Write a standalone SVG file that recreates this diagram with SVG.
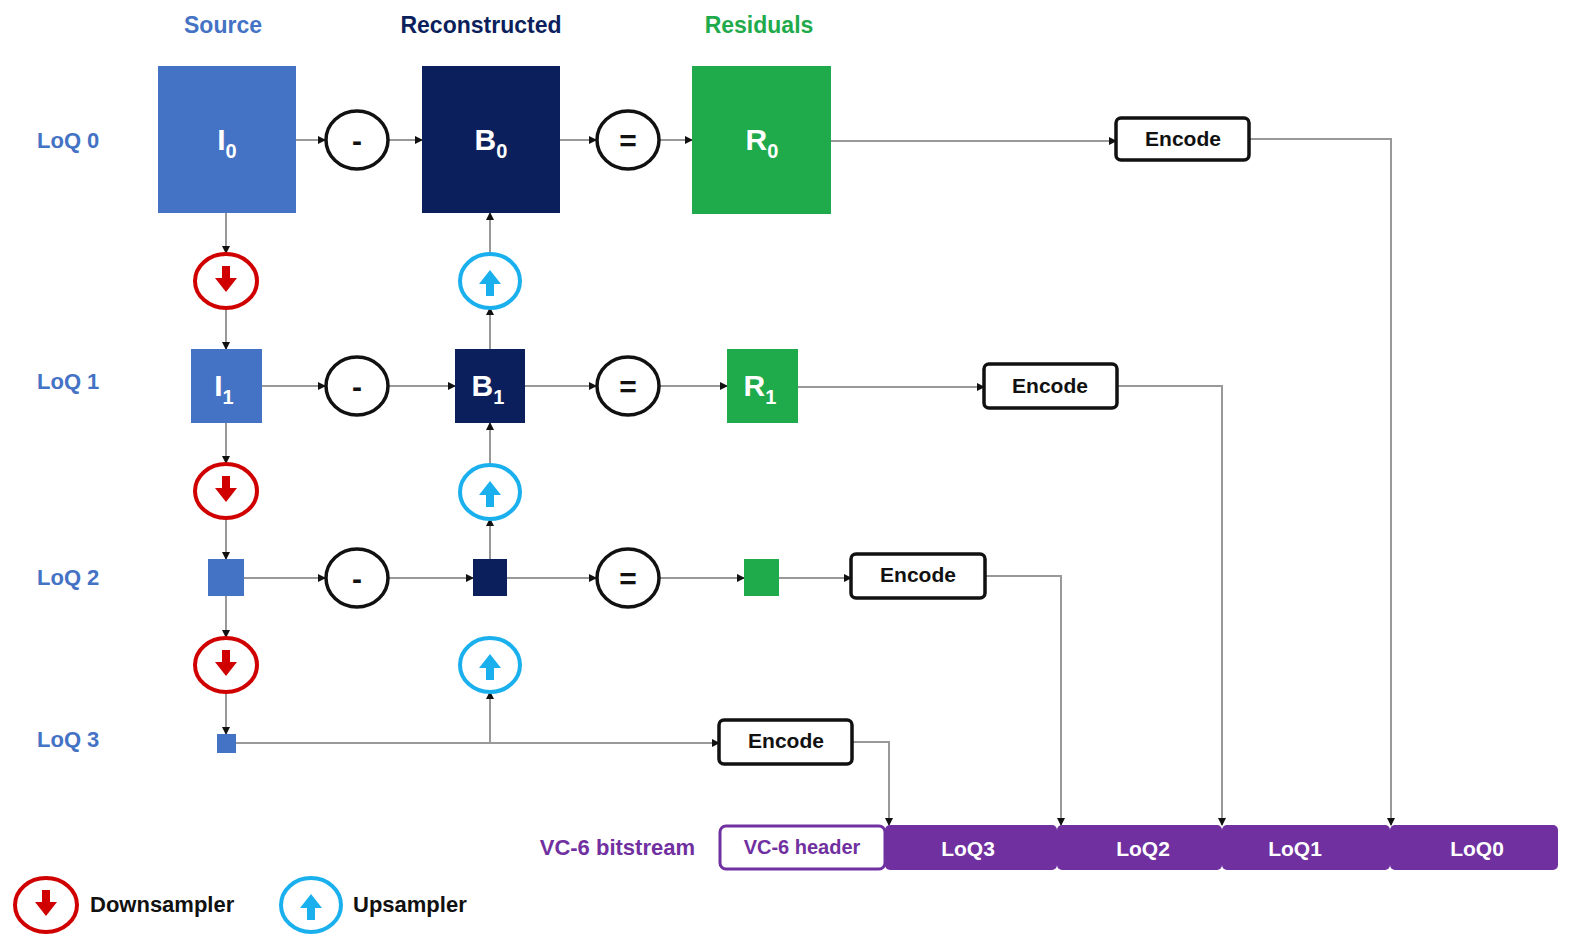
<svg xmlns="http://www.w3.org/2000/svg" width="1571" height="944" viewBox="0 0 1571 944">
<style>
text{font-family:"Liberation Sans",Arial,sans-serif;font-weight:bold}
.hd{font-size:23px;text-anchor:middle}
.loq{font-size:22px;fill:#4472C4}
.bt{fill:#fff;font-size:30px;text-anchor:middle}
.op{fill:#fff;stroke:#111;stroke-width:3.5}
.opt{font-size:30px;text-anchor:middle;fill:#111}
.enc{fill:#fff;stroke:#111;stroke-width:3.5}
.et{font-size:21px;text-anchor:middle;fill:#111}
.c{fill:none;stroke:#999;stroke-width:2;marker-end:url(#ah)}
.cn{fill:none;stroke:#999;stroke-width:2}
.dn{fill:#fff;stroke:#D00000;stroke-width:4}
.up{fill:#fff;stroke:#1AB0EE;stroke-width:4}
.seg{fill:#7030A0}
.st{fill:#fff;font-size:21px;text-anchor:middle}
</style>
<defs>
<marker id="ah" markerWidth="8" markerHeight="8" refX="7" refY="4" orient="auto" markerUnits="userSpaceOnUse"><path d="M0,0 L8,4 L0,8z" fill="#111"/></marker>
<g id="down"><ellipse class="dn" rx="31" ry="27"/><path d="M-4,-15 h8 v12 h7 l-11,14 l-11,-14 h7z" fill="#D00000"/></g>
<g id="upg"><ellipse class="up" rx="30" ry="27"/><path d="M-4,15 h8 v-12 h7 l-11,-14 l-11,14 h7z" fill="#1AB0EE"/></g>
</defs>
<rect width="1571" height="944" fill="#fff"/>
<text class="hd" x="223" y="33" fill="#4472C4">Source</text>
<text class="hd" x="481" y="33" fill="#0B1F5C">Reconstructed</text>
<text class="hd" x="759" y="33" fill="#1FAA4B">Residuals</text>
<text class="loq" x="37" y="148">LoQ 0</text>
<text class="loq" x="37" y="389">LoQ 1</text>
<text class="loq" x="37" y="585">LoQ 2</text>
<text class="loq" x="37" y="747">LoQ 3</text>
<g id="connectors">
<path class="c" d="M296,140 H325"/><path class="c" d="M388,140 H422"/><path class="c" d="M560,140 H596"/><path class="c" d="M660,140 H692"/>
<path class="c" d="M831,141 H1116"/><path class="c" d="M1249,139 H1391 V825"/>
<path class="c" d="M226,213 V253"/><path class="c" d="M226,308 V349"/><path class="c" d="M226,423 V463"/><path class="c" d="M226,518 V559"/><path class="c" d="M226,596 V637"/><path class="c" d="M226,692 V734"/>
<path class="c" d="M490,254 V213"/><path class="c" d="M490,349 V308"/><path class="c" d="M490,465 V423"/><path class="c" d="M490,559 V519"/><path class="c" d="M490,743 V692"/><path class="cn" d="M490,743 V743"/>
<path class="c" d="M262,386 H325"/><path class="c" d="M388,386 H455"/><path class="c" d="M525,386 H596"/><path class="c" d="M660,386 H727"/>
<path class="c" d="M798,387 H984"/><path class="c" d="M1117,386 H1222 V825"/>
<path class="c" d="M244,578 H325"/><path class="c" d="M388,578 H473"/><path class="c" d="M507,578 H596"/><path class="c" d="M660,578 H744"/>
<path class="c" d="M779,578 H851"/><path class="c" d="M985,576 H1061 V825"/>
<path class="c" d="M236,743 H719"/><path class="c" d="M852,742 H889 V825"/>
</g>
<g id="I0"><rect x="158" y="66" width="138" height="147" fill="#4472C4"/><text class="bt" x="227" y="150">I<tspan font-size="20" dy="8">0</tspan></text></g>
<g id="minus0"><ellipse class="op" cx="357" cy="140" rx="31" ry="29"/><text class="opt" x="357" y="151">-</text></g>
<g id="B0"><rect x="422" y="66" width="138" height="147" fill="#0B1F5C"/><text class="bt" x="491" y="150">B<tspan font-size="20" dy="8">0</tspan></text></g>
<g id="eq0"><ellipse class="op" cx="628" cy="140" rx="31" ry="29"/><text class="opt" x="628" y="151">=</text></g>
<g id="R0"><rect x="692" y="66" width="139" height="148" fill="#1FAA4B"/><text class="bt" x="762" y="150">R<tspan font-size="20" dy="8">0</tspan></text></g>
<g id="enc0"><rect class="enc" x="1116" y="118" width="133" height="42" rx="5"/><text class="et" x="1183" y="146">Encode</text></g>
<g id="I1"><rect x="191" y="349" width="71" height="74" fill="#4472C4"/><text class="bt" x="224" y="396">I<tspan font-size="20" dy="8">1</tspan></text></g>
<g id="minus1"><ellipse class="op" cx="357" cy="386" rx="31" ry="29"/><text class="opt" x="357" y="397">-</text></g>
<g id="B1"><rect x="455" y="349" width="70" height="74" fill="#0B1F5C"/><text class="bt" x="488" y="396">B<tspan font-size="20" dy="8">1</tspan></text></g>
<g id="eq1"><ellipse class="op" cx="628" cy="386" rx="31" ry="29"/><text class="opt" x="628" y="397">=</text></g>
<g id="R1"><rect x="727" y="349" width="71" height="74" fill="#1FAA4B"/><text class="bt" x="760" y="396">R<tspan font-size="20" dy="8">1</tspan></text></g>
<g id="enc1"><rect class="enc" x="984" y="364" width="133" height="44" rx="5"/><text class="et" x="1050" y="393">Encode</text></g>
<g id="I2"><rect x="208" y="559" width="36" height="37" fill="#4472C4"/></g>
<g id="minus2"><ellipse class="op" cx="357" cy="578" rx="31" ry="29"/><text class="opt" x="357" y="589">-</text></g>
<g id="B2"><rect x="473" y="559" width="34" height="37" fill="#0B1F5C"/></g>
<g id="eq2"><ellipse class="op" cx="628" cy="578" rx="31" ry="29"/><text class="opt" x="628" y="589">=</text></g>
<g id="R2"><rect x="744" y="559" width="35" height="37" fill="#1FAA4B"/></g>
<g id="enc2"><rect class="enc" x="851" y="554" width="134" height="44" rx="5"/><text class="et" x="918" y="582">Encode</text></g>
<g id="I3"><rect x="217" y="734" width="19" height="19" fill="#4472C4"/></g>
<g id="enc3"><rect class="enc" x="719" y="720" width="133" height="44" rx="5"/><text class="et" x="786" y="748">Encode</text></g>
<g id="ds0"><use href="#down" x="226" y="281"/></g>
<g id="ds1"><use href="#down" x="226" y="491"/></g>
<g id="ds2"><use href="#down" x="226" y="665"/></g>
<g id="us0"><use href="#upg" x="490" y="281"/></g>
<g id="us1"><use href="#upg" x="490" y="492"/></g>
<g id="us2"><use href="#upg" x="490" y="665"/></g>
<g id="bitstream">
<text x="695" y="855" font-size="22" fill="#7030A0" text-anchor="end">VC-6 bitstream</text>
<rect class="seg" x="885" y="825" width="172" height="45" rx="5"/>
<rect class="seg" x="1057" y="825" width="165" height="45" rx="5"/>
<rect class="seg" x="1222" y="825" width="168" height="45" rx="5"/>
<rect class="seg" x="1390" y="825" width="168" height="45" rx="5"/>
<rect x="720" y="826" width="165" height="43" rx="6" fill="#fff" stroke="#7030A0" stroke-width="3"/>
<text x="802" y="854" font-size="20" fill="#7030A0" text-anchor="middle">VC-6 header</text>
<text class="st" x="968" y="856">LoQ3</text>
<text class="st" x="1143" y="856">LoQ2</text>
<text class="st" x="1295" y="856">LoQ1</text>
<text class="st" x="1477" y="856">LoQ0</text>
</g>
<g id="legend">
<use href="#down" x="46" y="905"/>
<text x="90" y="912" font-size="22" fill="#111">Downsampler</text>
<use href="#upg" x="311" y="905"/>
<text x="353" y="912" font-size="22" fill="#111">Upsampler</text>
</g>
</svg>
